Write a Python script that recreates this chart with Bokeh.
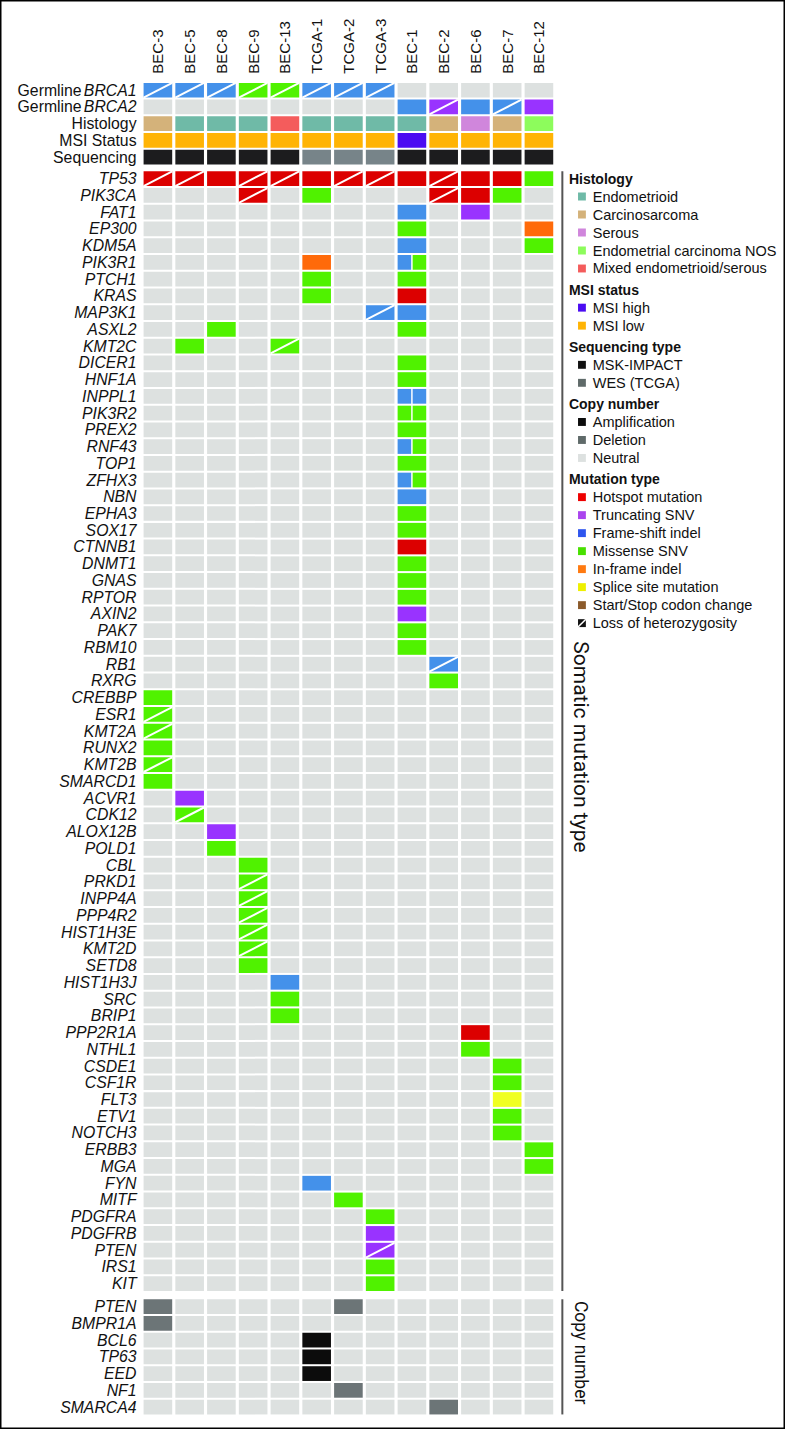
import math
from bokeh.plotting import figure
from bokeh.models import Range1d
from bokeh.core.properties import value
from bokeh.embed import file_html
from bokeh.resources import INLINE

# ---------------- data ----------------
samples = ["BEC-3", "BEC-5", "BEC-8", "BEC-9", "BEC-13", "TCGA-1", "TCGA-2",
           "TCGA-3", "BEC-1", "BEC-2", "BEC-6", "BEC-7", "BEC-12"]

# mutation codes: HS hotspot, TR truncating SNV, FS frame-shift indel,
# MS missense SNV, IF in-frame indel, SP splice site, SS start/stop codon
brca1_type = ["FS", "FS", "FS", "MS", "MS", "FS", "FS", "FS", None, None, None, None, None]
brca1_loh = [1, 1, 1, 1, 1, 1, 1, 1, 0, 0, 0, 0, 0]
brca2_type = [None, None, None, None, None, None, None, None, "FS", "TR", "FS", "FS", "TR"]
brca2_loh = [0, 0, 0, 0, 0, 0, 0, 0, 0, 1, 0, 1, 0]
histology = ["Carcinosarcoma", "Endometrioid", "Endometrioid", "Endometrioid",
             "Mixed endometrioid/serous", "Endometrioid", "Endometrioid", "Endometrioid",
             "Endometrioid", "Carcinosarcoma", "Serous", "Carcinosarcoma",
             "Endometrial carcinoma NOS"]
msi_status = ["MSI low"] * 8 + ["MSI high"] + ["MSI low"] * 4
sequencing = ["MSK-IMPACT"] * 5 + ["WES (TCGA)"] * 3 + ["MSK-IMPACT"] * 5

somatic_genes = ["TP53", "PIK3CA", "FAT1", "EP300", "KDM5A", "PIK3R1", "PTCH1", "KRAS",
                 "MAP3K1", "ASXL2", "KMT2C", "DICER1", "HNF1A", "INPPL1", "PIK3R2", "PREX2",
                 "RNF43", "TOP1", "ZFHX3", "NBN", "EPHA3", "SOX17", "CTNNB1", "DNMT1", "GNAS",
                 "RPTOR", "AXIN2", "PAK7", "RBM10", "RB1", "RXRG", "CREBBP", "ESR1", "KMT2A",
                 "RUNX2", "KMT2B", "SMARCD1", "ACVR1", "CDK12", "ALOX12B", "POLD1", "CBL",
                 "PRKD1", "INPP4A", "PPP4R2", "HIST1H3E", "KMT2D", "SETD8", "HIST1H3J", "SRC",
                 "BRIP1", "PPP2R1A", "NTHL1", "CSDE1", "CSF1R", "FLT3", "ETV1", "NOTCH3",
                 "ERBB3", "MGA", "FYN", "MITF", "PDGFRA", "PDGFRB", "PTEN", "IRS1", "KIT"]

# (gene, sample, mutation type, loss of heterozygosity)
somatic_events = [
    ("TP53", "BEC-3", "HS", 1), ("TP53", "BEC-5", "HS", 1), ("TP53", "BEC-8", "HS", 0),
    ("TP53", "BEC-9", "HS", 1), ("TP53", "BEC-13", "HS", 1), ("TP53", "TCGA-1", "HS", 0),
    ("TP53", "TCGA-2", "HS", 1), ("TP53", "TCGA-3", "HS", 1), ("TP53", "BEC-1", "HS", 0),
    ("TP53", "BEC-2", "HS", 1), ("TP53", "BEC-6", "HS", 0), ("TP53", "BEC-7", "HS", 0),
    ("TP53", "BEC-12", "MS", 0),
    ("PIK3CA", "BEC-9", "HS", 1), ("PIK3CA", "TCGA-1", "MS", 0), ("PIK3CA", "BEC-2", "HS", 1),
    ("PIK3CA", "BEC-6", "HS", 0), ("PIK3CA", "BEC-7", "MS", 0),
    ("FAT1", "BEC-1", "FS", 0), ("FAT1", "BEC-6", "TR", 0),
    ("EP300", "BEC-1", "MS", 0), ("EP300", "BEC-12", "IF", 0),
    ("KDM5A", "BEC-1", "FS", 0), ("KDM5A", "BEC-12", "MS", 0),
    ("PIK3R1", "TCGA-1", "IF", 0),
    ("PTCH1", "TCGA-1", "MS", 0), ("PTCH1", "BEC-1", "MS", 0),
    ("KRAS", "TCGA-1", "MS", 0), ("KRAS", "BEC-1", "HS", 0),
    ("MAP3K1", "TCGA-3", "FS", 1), ("MAP3K1", "BEC-1", "FS", 0),
    ("ASXL2", "BEC-8", "MS", 0), ("ASXL2", "BEC-1", "MS", 0),
    ("KMT2C", "BEC-5", "MS", 0), ("KMT2C", "BEC-13", "MS", 1),
    ("DICER1", "BEC-1", "MS", 0), ("HNF1A", "BEC-1", "MS", 0),
    ("PREX2", "BEC-1", "MS", 0), ("TOP1", "BEC-1", "MS", 0), ("NBN", "BEC-1", "FS", 0),
    ("EPHA3", "BEC-1", "MS", 0), ("SOX17", "BEC-1", "MS", 0), ("CTNNB1", "BEC-1", "HS", 0),
    ("DNMT1", "BEC-1", "MS", 0), ("GNAS", "BEC-1", "MS", 0), ("RPTOR", "BEC-1", "MS", 0),
    ("AXIN2", "BEC-1", "TR", 0), ("PAK7", "BEC-1", "MS", 0), ("RBM10", "BEC-1", "MS", 0),
    ("RB1", "BEC-2", "FS", 1), ("RXRG", "BEC-2", "MS", 0),
    ("CREBBP", "BEC-3", "MS", 0), ("ESR1", "BEC-3", "MS", 1), ("KMT2A", "BEC-3", "MS", 1),
    ("RUNX2", "BEC-3", "MS", 0), ("KMT2B", "BEC-3", "MS", 1), ("SMARCD1", "BEC-3", "MS", 0),
    ("ACVR1", "BEC-5", "TR", 0), ("CDK12", "BEC-5", "MS", 1),
    ("ALOX12B", "BEC-8", "TR", 0), ("POLD1", "BEC-8", "MS", 0),
    ("CBL", "BEC-9", "MS", 0), ("PRKD1", "BEC-9", "MS", 1), ("INPP4A", "BEC-9", "MS", 1),
    ("PPP4R2", "BEC-9", "MS", 1), ("HIST1H3E", "BEC-9", "MS", 1), ("KMT2D", "BEC-9", "MS", 1),
    ("SETD8", "BEC-9", "MS", 0),
    ("HIST1H3J", "BEC-13", "FS", 0), ("SRC", "BEC-13", "MS", 0), ("BRIP1", "BEC-13", "MS", 0),
    ("PPP2R1A", "BEC-6", "HS", 0), ("NTHL1", "BEC-6", "MS", 0),
    ("CSDE1", "BEC-7", "MS", 0), ("CSF1R", "BEC-7", "MS", 0), ("FLT3", "BEC-7", "SP", 0),
    ("ETV1", "BEC-7", "MS", 0), ("NOTCH3", "BEC-7", "MS", 0),
    ("ERBB3", "BEC-12", "MS", 0), ("MGA", "BEC-12", "MS", 0),
    ("FYN", "TCGA-1", "FS", 0), ("MITF", "TCGA-2", "MS", 0),
    ("PDGFRA", "TCGA-3", "MS", 0), ("PDGFRB", "TCGA-3", "TR", 0), ("PTEN", "TCGA-3", "TR", 1),
    ("IRS1", "TCGA-3", "MS", 0), ("KIT", "TCGA-3", "MS", 0),
]
# cells holding two mutations: (gene, sample, left half, right half)
split_events = [
    ("PIK3R1", "BEC-1", "FS", "MS"), ("INPPL1", "BEC-1", "FS", "FS"),
    ("PIK3R2", "BEC-1", "MS", "MS"), ("RNF43", "BEC-1", "FS", "MS"),
    ("ZFHX3", "BEC-1", "FS", "MS"),
]

cn_genes = ["PTEN", "BMPR1A", "BCL6", "TP63", "EED", "NF1", "SMARCA4"]
cn_events = [("PTEN", "BEC-3", "Deletion"), ("PTEN", "TCGA-2", "Deletion"),
             ("BMPR1A", "BEC-3", "Deletion"), ("BCL6", "TCGA-1", "Amplification"),
             ("TP63", "TCGA-1", "Amplification"), ("EED", "TCGA-1", "Amplification"),
             ("NF1", "TCGA-2", "Deletion"), ("SMARCA4", "BEC-2", "Deletion")]

# ---------------- styles ----------------
NEUTRAL = "#dde1e0"
mut_colors = {"HS": "#dc0000", "TR": "#9933ff", "FS": "#4491ea", "MS": "#50f200",
              "IF": "#ff6a0a", "SP": "#f0ff22", "SS": "#8b5a2b"}
hist_colors = {"Endometrioid": "#6fbaa7", "Carcinosarcoma": "#d4b27a", "Serous": "#d086dc",
               "Endometrial carcinoma NOS": "#8dfc5c", "Mixed endometrioid/serous": "#f45c5c"}
msi_colors = {"MSI high": "#4b0cf2", "MSI low": "#ffb405"}
seq_colors = {"MSK-IMPACT": "#1c1c1e", "WES (TCGA)": "#778489"}
cn_colors = {"Amplification": "#0c0c0c", "Deletion": "#6c7577", "Neutral": NEUTRAL}

legend_groups = [
    ("Histology", [("Endometrioid", "#6fbaa7"), ("Carcinosarcoma", "#d4b27a"),
                   ("Serous", "#d086dc"), ("Endometrial carcinoma NOS", "#8dfc5c"),
                   ("Mixed endometrioid/serous", "#f45c5c")]),
    ("MSI status", [("MSI high", "#4b0cf2"), ("MSI low", "#ffb405")]),
    ("Sequencing type", [("MSK-IMPACT", "#111111"), ("WES (TCGA)", "#5f6a69")]),
    ("Copy number", [("Amplification", "#0c0c0c"), ("Deletion", "#5f6a69"),
                     ("Neutral", "#dde1e0")]),
    ("Mutation type", [("Hotspot mutation", "#ee0000"), ("Truncating SNV", "#aa44ee"),
                       ("Frame-shift indel", "#2e55ee"), ("Missense SNV", "#48e000"),
                       ("In-frame indel", "#ff7a10"), ("Splice site mutation", "#eef000"),
                       ("Start/Stop codon change", "#8b5a2b"),
                       ("Loss of heterozygosity", "LOH")]),
]

# ---------------- layout (reference pixel space, scaled by the ranges) ----------------
W, H = 785, 1429
REF_W, REF_H = 801, 1445
COL_X0 = 146.0
COL_PITCH = 32.4
CELL_W = 29.2
ROW_PITCH = 16.93
CELL_H = 14.9
TOP_Y0 = 83.3
SOM_Y0 = 172.7
CN_Y0 = 1313.3
LABEL_X = 138.8
FONT = value("Liberation Sans")
LBL_SIZE = "15.8px"

p = figure(width=W, height=H, output_backend="svg", toolbar_location=None,
           x_range=Range1d(0, REF_W), y_range=Range1d(REF_H, 0),
           x_axis_type=None, y_axis_type=None, min_border=0)
p.grid.visible = False
p.outline_line_color = "black"
p.outline_line_width = 2
p.background_fill_color = "white"
p.border_fill_color = "white"

sidx = {s: i for i, s in enumerate(samples)}

L, R, T, B, C = [], [], [], [], []
LX0, LY0, LX1, LY1 = [], [], [], []


def cell(ci, top, color, loh=0, frac=(0.0, 1.0)):
    left = COL_X0 + ci * COL_PITCH
    l = left + frac[0] * CELL_W
    r = left + frac[1] * CELL_W
    L.append(l); R.append(r); T.append(top); B.append(top + CELL_H); C.append(color)
    if loh:
        LX0.append(l); LY0.append(top + CELL_H); LX1.append(r); LY1.append(top)


# top tracks
top_tracks = [
    ([mut_colors[t] if t else NEUTRAL for t in brca1_type], brca1_loh),
    ([mut_colors[t] if t else NEUTRAL for t in brca2_type], brca2_loh),
    ([hist_colors[h] for h in histology], [0] * len(samples)),
    ([msi_colors[m] for m in msi_status], [0] * len(samples)),
    ([seq_colors[s] for s in sequencing], [0] * len(samples)),
]
for k, (cols, lohs) in enumerate(top_tracks):
    top = TOP_Y0 + k * ROW_PITCH
    for ci in range(len(samples)):
        cell(ci, top, cols[ci], lohs[ci])

# somatic grid
gidx = {g: i for i, g in enumerate(somatic_genes)}
ev = {(g, s): (t, l) for g, s, t, l in somatic_events}
sp = {(g, s): (a, b) for g, s, a, b in split_events}
for g in somatic_genes:
    top = SOM_Y0 + gidx[g] * ROW_PITCH
    for s in samples:
        ci = sidx[s]
        if (g, s) in sp:
            a, b = sp[(g, s)]
            half = 0.5 - 0.75 / CELL_W
            cell(ci, top, mut_colors[a], 0, (0.0, half))
            cell(ci, top, mut_colors[b], 0, (1.0 - half, 1.0))
        elif (g, s) in ev:
            t, l = ev[(g, s)]
            cell(ci, top, mut_colors[t], l)
        else:
            cell(ci, top, NEUTRAL)

# copy number grid
cidx = {g: i for i, g in enumerate(cn_genes)}
cev = {(g, s): t for g, s, t in cn_events}
for g in cn_genes:
    top = CN_Y0 + cidx[g] * ROW_PITCH
    for s in samples:
        cell(sidx[s], top, cn_colors[cev.get((g, s), "Neutral")])

p.quad(left=L, right=R, top=T, bottom=B, fill_color=C, line_color=None)
p.segment(x0=LX0, y0=LY0, x1=LX1, y1=LY1, line_color="white", line_width=2)

# column labels
p.text(x=[COL_X0 + i * COL_PITCH + CELL_W / 2 for i in range(len(samples))],
       y=[74.0] * len(samples), text=samples, angle=math.pi / 2,
       text_align="left", text_baseline="middle", text_font=FONT,
       text_font_size="15px", text_color="#111111")

# row labels: top tracks
top_labels_plain = ["Germline", "Germline", "Histology", "MSI Status", "Sequencing"]
top_labels_ital = ["BRCA1", "BRCA2", "", "", ""]
ITAL_W = 56.0
for k in range(5):
    yc = TOP_Y0 + k * ROW_PITCH + CELL_H / 2
    if top_labels_ital[k]:
        p.text(x=[LABEL_X], y=[yc], text=[top_labels_ital[k]], text_align="right",
               text_baseline="middle", text_font=FONT, text_font_size=LBL_SIZE,
               text_font_style="italic", text_color="#111111")
        p.text(x=[LABEL_X - ITAL_W], y=[yc], text=[top_labels_plain[k]],
               text_align="right", text_baseline="middle", text_font=FONT,
               text_font_size=LBL_SIZE, text_color="#111111")
    else:
        p.text(x=[LABEL_X], y=[yc], text=[top_labels_plain[k]], text_align="right",
               text_baseline="middle", text_font=FONT, text_font_size=LBL_SIZE,
               text_color="#111111")

p.text(x=[LABEL_X] * len(somatic_genes),
       y=[SOM_Y0 + i * ROW_PITCH + CELL_H / 2 for i in range(len(somatic_genes))],
       text=somatic_genes, text_align="right", text_baseline="middle", text_font=FONT,
       text_font_size=LBL_SIZE, text_font_style="italic", text_color="#111111")
p.text(x=[LABEL_X] * len(cn_genes),
       y=[CN_Y0 + i * ROW_PITCH + CELL_H / 2 for i in range(len(cn_genes))],
       text=cn_genes, text_align="right", text_baseline="middle", text_font=FONT,
       text_font_size=LBL_SIZE, text_font_style="italic", text_color="#111111")

# side brackets
SIDE_X = 573.3
som_top = SOM_Y0
som_bot = SOM_Y0 + (len(somatic_genes) - 1) * ROW_PITCH + CELL_H
cn_top = CN_Y0
cn_bot = CN_Y0 + (len(cn_genes) - 1) * ROW_PITCH + CELL_H
p.segment(x0=[SIDE_X, SIDE_X], y0=[som_top, cn_top], x1=[SIDE_X, SIDE_X],
          y1=[som_bot, cn_bot], line_color="#555555", line_width=2)
p.text(x=[592.0], y=[648.0], text=["Somatic mutation type"], angle=-math.pi / 2,
       text_align="left", text_baseline="middle", text_font=value("Roboto"),
       text_font_size="21px", text_color="#111111")
p.text(x=[592.0], y=[1315.0], text=["Copy number"], angle=-math.pi / 2,
       text_align="left", text_baseline="middle", text_font=value("Roboto"),
       text_font_size="17.5px", text_color="#111111")

# legend
TITLE_X = 580.0
SQ_X = 589.3
SQ = 8.0
TXT_X = 604.3
y = 180.0
STEP, GAP = 18.2, 21.4
tx, ty, tt = [], [], []
ix, iy, it = [], [], []
sl, sr, stp, sb, sc = [], [], [], [], []
lohx, lohy = [], []
for gi, (title, items) in enumerate(legend_groups):
    if gi > 0:
        y += GAP
    tx.append(TITLE_X); ty.append(y); tt.append(title)
    for lab, col in items:
        y += STEP
        ix.append(TXT_X); iy.append(y); it.append(lab)
        sl.append(SQ_X); sr.append(SQ_X + SQ); stp.append(y - SQ / 2); sb.append(y + SQ / 2)
        if col == "LOH":
            sc.append("#111111")
            lohx.append([SQ_X, SQ_X + SQ]); lohy.append([y + SQ / 2, y - SQ / 2])
        else:
            sc.append(col)

p.text(x=tx, y=ty, text=tt, text_align="left", text_baseline="middle", text_font=FONT,
       text_font_size="14px", text_font_style="bold", text_color="#111111")
p.text(x=ix, y=iy, text=it, text_align="left", text_baseline="middle", text_font=FONT,
       text_font_size="14.5px", text_color="#111111")
p.quad(left=sl, right=sr, top=stp, bottom=sb, fill_color=sc, line_color=None)
p.multi_line(xs=lohx, ys=lohy, line_color="white", line_width=1.5)

open("out.html", "w").write(file_html(p, INLINE))
